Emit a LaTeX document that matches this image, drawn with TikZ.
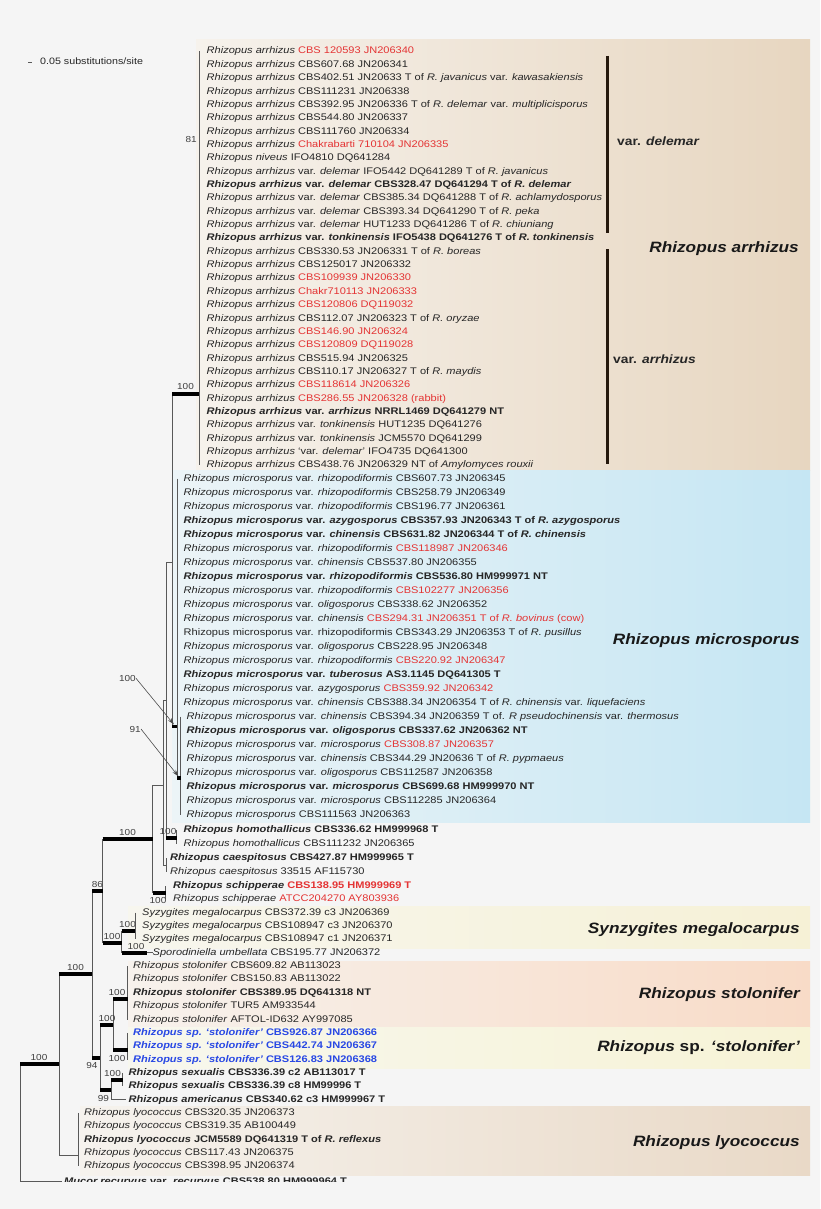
\documentclass[tikz,border=0pt]{standalone}
\usepackage{fontspec}
\setmainfont[FakeStretch=1.15]{Liberation Sans}
\usepackage{tikz}
\usetikzlibrary{arrows.meta}

\definecolor{bgcol}{RGB}{245,245,245}
\definecolor{strainred}{RGB}{228,52,52}
\definecolor{strainblue}{RGB}{40,72,228}
\definecolor{arrL}{RGB}{246,242,236}
\definecolor{arrR}{RGB}{231,214,192}
\definecolor{micL}{RGB}{236,244,247}
\definecolor{micR}{RGB}{197,230,243}
\definecolor{syzL}{RGB}{247,246,238}
\definecolor{syzR}{RGB}{246,241,214}
\definecolor{stoL}{RGB}{247,242,237}
\definecolor{stoR}{RGB}{248,219,199}
\definecolor{spL}{RGB}{247,247,238}
\definecolor{spR}{RGB}{247,243,214}
\definecolor{lyoL}{RGB}{246,243,238}
\definecolor{lyoR}{RGB}{233,217,199}

\newcommand{\ra}{\textit{Rhizopus arrhizus}}
\newcommand{\rmi}{\textit{Rhizopus microsporus}}
\newcommand{\redtxt}[1]{\textcolor{strainred}{#1}}

\begin{document}
\begin{tikzpicture}[x=1pt,y=-1pt,
        leaf/.style={anchor=west,inner sep=0pt,text height=7pt,text depth=2pt,font=\fontsize{9.6}{11}\selectfont,text=black!85},
        branch/.style={draw=black!65,line width=0.7pt},
        bar/.style={draw=black,line width=3.8pt},
        boot/.style={inner sep=0pt,text height=6.3pt,text depth=0pt,font=\fontsize{8.7}{10}\selectfont,text=black!75},
        clade/.style={anchor=east,inner sep=0pt,text height=11pt,text depth=3pt,font=\fontsize{15}{17}\bfseries\itshape\selectfont,text=black!90},
        varlabel/.style={anchor=west,inner sep=0pt,text height=8.5pt,text depth=2pt,font=\fontsize{12}{14}\bfseries\selectfont,text=black!85},
        bracket/.style={draw=black!80!brown,line width=3pt},
        pointer/.style={draw=black!70,line width=0.6pt,-{Stealth[length=7pt,width=4pt]}}]
        \fill[bgcol] (0,0) rectangle (820,1209);
        \begin{scope}
        \clip (0,0) rectangle (820,1181);

        % coloured clade panels
        \shade[left color=arrL,right color=arrR] (196,40) rectangle (810,470.5);
        \shade[left color=micL,right color=micR] (172,470.5) rectangle (810,822.5);
        \shade[left color=syzL,right color=syzR] (128,906) rectangle (810,948);
        \shade[left color=stoL,right color=stoR] (128,961) rectangle (810,1027.5);
        \shade[left color=spL,right color=spR] (128,1027.5) rectangle (810,1068);
        \shade[left color=lyoL,right color=lyoR] (80,1106) rectangle (810,1175);

        % scale bar
        \coordinate (scaleA) at (28,62.5);
        \coordinate (scaleB) at (32,62.5);
        \draw[branch] (scaleA) -- (scaleB);
        \node[leaf,font=\fontsize{9.3}{11}\selectfont] (scale) at (40,62.5) {0.05 substitutions/site};

        % Rhizopus arrhizus
        \node[leaf] (s1)  at (206.5,51.5)  {\ra\ \redtxt{CBS 120593 JN206340}};
        \node[leaf] (s2)  at (206.5,64.85) {\ra\ CBS607.68 JN206341};
        \node[leaf] (s3)  at (206.5,78.2)  {\ra\ CBS402.51 JN20633 T of \textit{R. javanicus} var. \textit{kawasakiensis}};
        \node[leaf] (s4)  at (206.5,91.55) {\ra\ CBS111231 JN206338};
        \node[leaf] (s5)  at (206.5,104.9) {\ra\ CBS392.95 JN206336 T of \textit{R. delemar} var. \textit{multiplicisporus}};
        \node[leaf] (s6)  at (206.5,118.25) {\ra\ CBS544.80 JN206337};
        \node[leaf] (s7)  at (206.5,131.6) {\ra\ CBS111760 JN206334};
        \node[leaf] (s8)  at (206.5,144.95) {\ra\ \redtxt{Chakrabarti 710104 JN206335}};
        \node[leaf] (s9)  at (206.5,158.3) {\textit{Rhizopus niveus} IFO4810 DQ641284};
        \node[leaf] (s10) at (206.5,171.65) {\ra\ var. \textit{delemar} IFO5442 DQ641289 T of \textit{R. javanicus}};
        \node[leaf] (s11) at (206.5,185.0) {\bfseries\ra\ var. \textit{delemar} CBS328.47 DQ641294 T of \textit{R. delemar}};
        \node[leaf] (s12) at (206.5,198.35) {\ra\ var. \textit{delemar} CBS385.34 DQ641288 T of \textit{R. achlamydosporus}};
        \node[leaf] (s13) at (206.5,211.7) {\ra\ var. \textit{delemar} CBS393.34 DQ641290 T of \textit{R. peka}};
        \node[leaf] (s14) at (206.5,225.05) {\ra\ var. \textit{delemar} HUT1233 DQ641286 T of \textit{R. chiuniang}};
        \node[leaf] (s15) at (206.5,238.4) {\bfseries\ra\ var. \textit{tonkinensis} IFO5438 DQ641276 T of \textit{R. tonkinensis}};
        \node[leaf] (s16) at (206.5,251.75) {\ra\ CBS330.53 JN206331 T of \textit{R. boreas}};
        \node[leaf] (s17) at (206.5,265.1) {\ra\ CBS125017 JN206332};
        \node[leaf] (s18) at (206.5,278.45) {\ra\ \redtxt{CBS109939 JN206330}};
        \node[leaf] (s19) at (206.5,291.8) {\ra\ \redtxt{Chakr710113 JN206333}};
        \node[leaf] (s20) at (206.5,305.15) {\ra\ \redtxt{CBS120806 DQ119032}};
        \node[leaf] (s21) at (206.5,318.5) {\ra\ CBS112.07 JN206323 T of \textit{R. oryzae}};
        \node[leaf] (s22) at (206.5,331.85) {\ra\ \redtxt{CBS146.90 JN206324}};
        \node[leaf] (s23) at (206.5,345.2) {\ra\ \redtxt{CBS120809 DQ119028}};
        \node[leaf] (s24) at (206.5,358.55) {\ra\ CBS515.94 JN206325};
        \node[leaf] (s25) at (206.5,371.9) {\ra\ CBS110.17 JN206327 T of \textit{R. maydis}};
        \node[leaf] (s26) at (206.5,385.25) {\ra\ \redtxt{CBS118614 JN206326}};
        \node[leaf] (s27) at (206.5,398.6) {\ra\ \redtxt{CBS286.55 JN206328 (rabbit)}};
        \node[leaf] (s28) at (206.5,411.95) {\bfseries\ra\ var. \textit{arrhizus} NRRL1469 DQ641279 NT};
        \node[leaf] (s29) at (206.5,425.3) {\ra\ var. \textit{tonkinensis} HUT1235 DQ641276};
        \node[leaf] (s30) at (206.5,438.65) {\ra\ var. \textit{tonkinensis} JCM5570 DQ641299};
        \node[leaf] (s31) at (206.5,452.0) {\ra\ `var. \textit{delemar}' IFO4735 DQ641300};
        \node[leaf] (s32) at (206.5,465.35) {\ra\ CBS438.76 JN206329 NT of \textit{Amylomyces rouxii}};

        % Rhizopus microsporus
        \node[leaf] (s33) at (183.5,478.5) {\rmi\ var. \textit{rhizopodiformis} CBS607.73 JN206345};
        \node[leaf] (s34) at (183.5,492.5) {\rmi\ var. \textit{rhizopodiformis} CBS258.79 JN206349};
        \node[leaf] (s35) at (183.5,506.5) {\rmi\ var. \textit{rhizopodiformis} CBS196.77 JN206361};
        \node[leaf] (s36) at (183.5,520.5) {\bfseries\rmi\ var. \textit{azygosporus} CBS357.93 JN206343 T of \textit{R. azygosporus}};
        \node[leaf] (s37) at (183.5,534.5) {\bfseries\rmi\ var. \textit{chinensis} CBS631.82 JN206344 T of \textit{R. chinensis}};
        \node[leaf] (s38) at (183.5,548.5) {\rmi\ var. \textit{rhizopodiformis} \redtxt{CBS118987 JN206346}};
        \node[leaf] (s39) at (183.5,562.5) {\rmi\ var. \textit{chinensis} CBS537.80 JN206355};
        \node[leaf] (s40) at (183.5,576.5) {\bfseries\rmi\ var. \textit{rhizopodiformis} CBS536.80 HM999971 NT};
        \node[leaf] (s41) at (183.5,590.5) {\rmi\ var. \textit{rhizopodiformis} \redtxt{CBS102277 JN206356}};
        \node[leaf] (s42) at (183.5,604.5) {\rmi\ var. \textit{oligosporus} CBS338.62 JN206352};
        \node[leaf] (s43) at (183.5,618.5) {\rmi\ var. \textit{chinensis} \redtxt{CBS294.31 JN206351 T of \textit{R. bovinus} (cow)}};
        \node[leaf] (s44) at (183.5,632.5) {Rhizopus microsporus var. rhizopodiformis CBS343.29 JN206353 T of \textit{R. pusillus}};
        \node[leaf] (s45) at (183.5,646.5) {\rmi\ var. \textit{oligosporus} CBS228.95 JN206348};
        \node[leaf] (s46) at (183.5,660.5) {\rmi\ var. \textit{rhizopodiformis} \redtxt{CBS220.92 JN206347}};
        \node[leaf] (s47) at (183.5,674.5) {\bfseries\rmi\ var. \textit{tuberosus} AS3.1145 DQ641305 T};
        \node[leaf] (s48) at (183.5,688.5) {\rmi\ var. \textit{azygosporus} \redtxt{CBS359.92 JN206342}};
        \node[leaf] (s49) at (183.5,702.5) {\rmi\ var. \textit{chinensis} CBS388.34 JN206354 T of \textit{R. chinensis} var. \textit{liquefaciens}};
        \node[leaf] (s50) at (186.5,716.5) {\rmi\ var. \textit{chinensis} CBS394.34 JN206359 T of. \textit{R pseudochinensis} var. \textit{thermosus}};
        \node[leaf] (s51) at (186.5,730.5) {\bfseries\rmi\ var. \textit{oligosporus} CBS337.62 JN206362 NT};
        \node[leaf] (s52) at (186.5,744.5) {\rmi\ var. \textit{microsporus} \redtxt{CBS308.87 JN206357}};
        \node[leaf] (s53) at (186.5,758.5) {\rmi\ var. \textit{chinensis} CBS344.29 JN20636 T of \textit{R. pypmaeus}};
        \node[leaf] (s54) at (186.5,772.5) {\rmi\ var. \textit{oligosporus} CBS112587 JN206358};
        \node[leaf] (s55) at (186.5,786.5) {\bfseries\rmi\ var. \textit{microsporus} CBS699.68 HM999970 NT};
        \node[leaf] (s56) at (186.5,800.5) {\rmi\ var. \textit{microsporus} CBS112285 JN206364};
        \node[leaf] (s57) at (186.5,814.5) {\rmi\ CBS111563 JN206363};

        % other Rhizopus and relatives
        \node[leaf] (s58) at (183.5,830) {\bfseries\textit{Rhizopus homothallicus} CBS336.62 HM999968 T};
        \node[leaf] (s59) at (183.5,844) {\textit{Rhizopus homothallicus} CBS111232 JN206365};
        \node[leaf] (s60) at (170,858) {\bfseries\textit{Rhizopus caespitosus} CBS427.87 HM999965 T};
        \node[leaf] (s61) at (170,872) {\textit{Rhizopus caespitosus} 33515 AF115730};
        \node[leaf] (s62) at (173,886) {\bfseries\textit{Rhizopus schipperae} \redtxt{CBS138.95 HM999969 T}};
        \node[leaf] (s63) at (173,899.35) {\textit{Rhizopus schipperae} \redtxt{ATCC204270 AY803936}};
        \node[leaf] (s64) at (142,912.7) {\textit{Syzygites megalocarpus} CBS372.39 c3 JN206369};
        \node[leaf] (s65) at (142,926.05) {\textit{Syzygites megalocarpus} CBS108947 c3 JN206370};
        \node[leaf] (s66) at (142,939.4) {\textit{Syzygites megalocarpus} CBS108947 c1 JN206371};
        \node[leaf] (s67) at (152.5,952.75) {\textit{Sporodiniella umbellata} CBS195.77 JN206372};
        \node[leaf] (s68) at (133,966.1) {\textit{Rhizopus stolonifer} CBS609.82 AB113023};
        \node[leaf] (s69) at (133,979.45) {\textit{Rhizopus stolonifer} CBS150.83 AB113022};
        \node[leaf] (s70) at (133,992.8) {\bfseries\textit{Rhizopus stolonifer} CBS389.95 DQ641318 NT};
        \node[leaf] (s71) at (133,1006.15) {\textit{Rhizopus stolonifer} TUR5 AM933544};
        \node[leaf] (s72) at (133,1019.5) {\textit{Rhizopus stolonifer} AFTOL-ID632 AY997085};
        \node[leaf,text=strainblue] (s73) at (133,1032.85) {\bfseries\textit{Rhizopus sp. `stolonifer'} CBS926.87 JN206366};
        \node[leaf,text=strainblue] (s74) at (133,1046.2) {\bfseries\textit{Rhizopus sp. `stolonifer'} CBS442.74 JN206367};
        \node[leaf,text=strainblue] (s75) at (133,1059.55) {\bfseries\textit{Rhizopus sp. `stolonifer'} CBS126.83 JN206368};
        \node[leaf] (s76) at (128.5,1072.9) {\bfseries\textit{Rhizopus sexualis} CBS336.39 c2 AB113017 T};
        \node[leaf] (s77) at (128.5,1086.25) {\bfseries\textit{Rhizopus sexualis} CBS336.39 c8 HM99996 T};
        \node[leaf] (s78) at (128.5,1099.6) {\bfseries\textit{Rhizopus americanus} CBS340.62 c3 HM999967 T};
        \node[leaf] (s79) at (84,1112.95) {\textit{Rhizopus lyococcus} CBS320.35 JN206373};
        \node[leaf] (s80) at (84,1126.3) {\textit{Rhizopus lyococcus} CBS319.35 AB100449};
        \node[leaf] (s81) at (84,1139.65) {\bfseries\textit{Rhizopus lyococcus} JCM5589 DQ641319 T of \textit{R. reflexus}};
        \node[leaf] (s82) at (84,1153.0) {\textit{Rhizopus lyococcus} CBS117.43 JN206375};
        \node[leaf] (s83) at (84,1166.35) {\textit{Rhizopus lyococcus} CBS398.95 JN206374};
        \node[leaf] (s84) at (64,1181.5) {\bfseries\textit{Mucor recurvus} var. \textit{recurvus} CBS538.80 HM999964 T};

        % tree nodes (top, bottom, stem)
        \coordinate (arrT) at (199,51.5);    \coordinate (arrB) at (199,465.35);  \coordinate (arrS) at (199,394);
        \coordinate (micT) at (177,478.5);   \coordinate (micB) at (177,778);     \coordinate (micS) at (177,726.5);
        \coordinate (msubT) at (180.5,716.5); \coordinate (msubB) at (180.5,814.5); \coordinate (msubS) at (180.5,778);
        \coordinate (amT) at (172,394);      \coordinate (amB) at (172,726.5);    \coordinate (amS) at (172,562);
        \coordinate (homT) at (176.7,830);   \coordinate (homB) at (176.7,844);   \coordinate (homS) at (176.7,838);
        \coordinate (hmT) at (166,562);      \coordinate (hmB) at (166,838);      \coordinate (hmS) at (166,700);
        \coordinate (caeT) at (166.5,858);   \coordinate (caeB) at (166.5,872);   \coordinate (caeS) at (166.5,865);
        \coordinate (cmT) at (163.3,700);    \coordinate (cmB) at (163.3,865);    \coordinate (cmS) at (163.3,785);
        \coordinate (schT) at (165.7,886);   \coordinate (schB) at (165.7,899.35); \coordinate (schS) at (165.7,893);
        \coordinate (smT) at (152.7,785);    \coordinate (smB) at (152.7,893);    \coordinate (smS) at (152.7,839);
        \coordinate (syzT) at (135,912.7);   \coordinate (syzB) at (135,939.4);   \coordinate (syzS) at (135,931);
        \coordinate (sporS) at (146.7,952.75);
        \coordinate (spoT) at (121.7,931);   \coordinate (spoB) at (121.7,952.75); \coordinate (spoS) at (121.7,943);
        \coordinate (bigT) at (102.7,839);   \coordinate (bigB) at (102.7,943);   \coordinate (bigS) at (102.7,891);
        \coordinate (stoT) at (127.7,966.1); \coordinate (stoB) at (127.7,1019.5); \coordinate (stoS) at (127.7,999);
        \coordinate (spT) at (127.7,1032.85); \coordinate (spB) at (127.7,1059.55); \coordinate (spS) at (127.7,1050);
        \coordinate (ssT) at (113.3,999);    \coordinate (ssB) at (113.3,1050);   \coordinate (ssS) at (113.3,1025);
        \coordinate (sexT) at (122.7,1072.9); \coordinate (sexB) at (122.7,1086.25); \coordinate (sexS) at (122.7,1080);
        \coordinate (saT) at (111,1080);     \coordinate (saB) at (111,1099.6);   \coordinate (saS) at (111,1090);
        \coordinate (stsT) at (100,1025);    \coordinate (stsB) at (100,1090);    \coordinate (stsS) at (100,1058);
        \coordinate (inT) at (92.3,891);     \coordinate (inB) at (92.3,1058);    \coordinate (inS) at (92.3,974);
        \coordinate (lyoT) at (78.3,1112.95); \coordinate (lyoB) at (78.3,1166.35); \coordinate (lyoS) at (78.3,1155);
        \coordinate (rhT) at (59,974);       \coordinate (rhB) at (59,1155);      \coordinate (rhS) at (59,1064);
        \coordinate (rootT) at (20,1064);    \coordinate (rootB) at (20,1195);

        % vertical lines
        \foreach \n in {arr,mic,msub,am,hom,hm,cae,cm,sch,sm,syz,spo,big,sto,sp,ss,sex,sa,sts,in,lyo,rh,root}
            \draw[branch] (\n T) -- (\n B);

        % stems
        \draw[bar] (arrS -| amT) -- (arrS);
        \draw[bar] (micS -| amT) -- (micS);
        \draw[bar] (msubS -| micT) -- (msubS);
        \draw[branch] (amS -| hmT) -- (amS);
        \draw[bar] (homS -| hmT) -- (homS);
        \draw[branch] (hmS -| cmT) -- (hmS);
        \draw[branch] (caeS -| cmT) -- (caeS);
        \draw[branch] (cmS -| smT) -- (cmS);
        \draw[bar] (schS -| smT) -- (schS);
        \draw[bar] (smS -| bigT) -- (smS);
        \draw[bar] (spoS -| bigT) -- (spoS);
        \draw[bar] (syzS -| spoT) -- (syzS);
        \draw[bar] (sporS -| spoT) -- (sporS);
        \draw[branch] (sporS) -- (s67.west);
        \draw[bar] (bigS -| inT) -- (bigS);
        \draw[bar] (stsS -| inT) -- (stsS);
        \draw[bar] (ssS -| stsT) -- (ssS);
        \draw[bar] (stoS -| ssT) -- (stoS);
        \draw[bar] (spS -| ssT) -- (spS);
        \draw[bar] (saS -| stsT) -- (saS);
        \draw[bar] (sexS -| saT) -- (sexS);
        \draw[branch] (saB) -- ([xshift=-3pt]s78.west);
        \draw[bar] (inS -| rhT) -- (inS);
        \draw[branch] (lyoS -| rhT) -- (lyoS);
        \draw[bar] (rhS -| rootT) -- (rhS);
        \draw[branch] (s84.west -| rootT) -- ([xshift=-2pt]s84.west);

        % support values
        \node[boot,anchor=east] (b81) at (197,139) {81};
        \node[boot,anchor=south] (bArr) at (185.5,390) {100};
        \node[boot,anchor=east] (bMic) at (136,678.3) {100};
        \node[boot,anchor=east] (bSub) at (141,729) {91};
        \coordinate (micTip) at (174,724.5);
        \coordinate (subTip) at (178.5,776.5);
        \draw[pointer] (bMic.east) -- (micTip);
        \draw[pointer] (bSub.east) -- (subTip);
        \node[boot,anchor=south] (bHom) at (168,834.5) {100};
        \node[boot,anchor=north] (bSch) at (158,897) {100};
        \node[boot,anchor=south] (bBig) at (127.5,835.5) {100};
        \node[boot,anchor=south] (b86) at (97.5,887.5) {86};
        \node[boot,anchor=south] (bSpo) at (112,939.5) {100};
        \node[boot,anchor=south] (bSyz) at (127.5,927.5) {100};
        \node[boot,anchor=south] (bSpor) at (136,949.5) {100};
        \node[boot,anchor=south] (bIn) at (75.5,970.5) {100};
        \node[boot,anchor=north] (b94) at (92,1062) {94};
        \node[boot,anchor=south] (bSs) at (107,1021.5) {100};
        \node[boot,anchor=south] (bSto) at (117,995.5) {100};
        \node[boot,anchor=north] (bSp) at (117,1054.5) {100};
        \node[boot,anchor=north] (b99) at (103.5,1094.5) {99};
        \node[boot,anchor=south] (bSex) at (112.5,1076.5) {100};
        \node[boot,anchor=south] (bRh) at (39,1060.5) {100};

        % clade labels
        \coordinate (delT) at (607.5,56);    \coordinate (delB) at (607.5,232.7);
        \coordinate (varT) at (607.5,249.3); \coordinate (varB) at (607.5,464);
        \draw[bracket] (delT) -- (delB);
        \draw[bracket] (varT) -- (varB);
        \node[varlabel] (vDel) at (617,142.7) {var. \textit{delemar}};
        \node[varlabel] (vArr) at (613,360.7) {var. \textit{arrhizus}};
        \node[clade] (cArr) at (799,248.3) {Rhizopus arrhizus};
        \node[clade] (cMic) at (800,640) {Rhizopus microsporus};
        \node[clade] (cSyz) at (800,929) {Synzygites megalocarpus};
        \node[clade] (cSto) at (800,994) {Rhizopus stolonifer};
        \node[clade] (cSp)  at (800,1047) {Rhizopus \textup{sp.} `stolonifer'};
        \node[clade] (cLyo) at (800,1142) {Rhizopus lyococcus};
        \end{scope}
    \end{tikzpicture}
\end{document}
